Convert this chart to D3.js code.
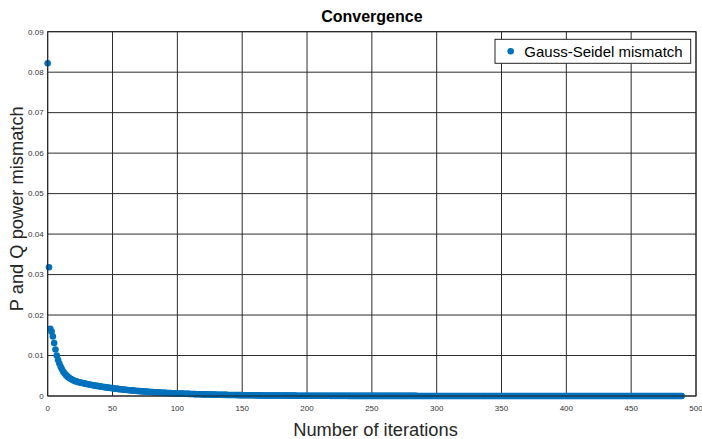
<!DOCTYPE html>
<html>
<head>
<meta charset="utf-8">
<script src="https://cdn.jsdelivr.net/npm/d3@7"></script>
<style>
	body { margin: 0; background: #fff; }
	svg { display: block; font-family: 'Liberation Sans', Arial, sans-serif; }
</style>
</head>
<body>
<svg id="chart" width="702" height="439"></svg>
<script>
// P and Q mismatch per Gauss-Seidel iteration (iteration = index, from 0)
const mismatch = [
	.0822, .0318, .0166, .0159, .0147, .0131, .0115, .0100, .0089, .0080,
	.0072, .0066, .0060, .0056, .0052, .0049, .0046, .0044, .0042, .0040,
	.00385, .00372, .00361, .00350, .00341, .00334, .00326, .00319, .00312, .00305,
	.00298, .00292, .00285, .00279, .00273, .00267, .00261, .00255, .00250, .00244,
	.00239, .00234, .00228, .00224, .00219, .00214, .00209, .00205, .00200, .00196,
	.00192, .00187, .00183, .00179, .00175, .00171, .00168, .00164, .00160, .00157,
	.00153, .00150, .00147, .00143, .00140, .00137, .00134, .00131, .00128, .00125,
	.00122, .00120, .00117, .00115, .00112, .00110, .00107, .00105, .00102, .00100,
	.00098, .00096, .00094, .00092, .00090, .00088, .00086, .00084, .00082, .00080,
	.00078, .00077, .00075, .00074, .00072, .00070, .00069, .00067, .00066, .00064,
	.00063, .00062, .00060, .00059, .00058, .00056, .00055, .00054, .00053, .00052,
	.00050, .00049, .00048, .00047, .00046, .00045, .00044, .00043, .00042, .00041,
	.00040, .00039, .00039, .00038, .00037, .00036, .00035, .00035, .00034, .00033,
	.00032, .00032, .00031, .00030, .00030, .00029, .00028, .00028, .00027, .00026,
	.00026, .00025, .00025, .00024, .00024, .00023, .00022, .00022, .00021, .00021,
	.00020, .00020, .00019, .00019, .00019, .00018, .00018, .00017, .00017, .00017,
	.00016, .00016, .00016, .00015, .00015, .00015, .00014, .00014, .00014, .00014,
	.00013, .00013, .00013, .00012, .00012, .00012, .00012, .00011, .00011, .00011,
	.00011, .00010, .00010, .00010, .00010, .00010, .00009, .00009, .00009, .00009,
	.00009, .00009, .00008, .00008, .00008, .00008, .00008, .00008, .00008, .00007,
	.00007, .00007, .00007, .00007, .00006, .00006, .00006, .00006, .00006, .00006,
	.00006, .00005, .00005, .00005, .00005, .00005, .00005, .00005, .00004, .00004,
	.00004, .00004, .00004, .00004, .00004, .00004, .00004, .00004, .00004, .00004,
	.00004, .00004, .00003, .00003, .00003, .00003, .00003, .00003, .00003, .00003,
	.00003, .00003, .00003, .00003, .00003, .00003, .00003, .00003, .00003, .00003,
	.00003, .00003, .00002, .00002, .00002, .00002, .00002, .00002, .00002, .00002,
	.00002, .00002, .00002, .00002, .00002, .00002, .00002, .00002, .00002, .00002,
	.00002, .00002, .00002, .00002, .00002, .00002, .00002, .00002, .00002, .00002,
	.00002, .00002, .00002, .00002, .00002, .00001, .00001, .00001, .00001, .00001,
	.00001, .00001, .00001, .00001, .00001, .00001, .00001, .00001, .00001, .00001,
	.00001, .00001, .00001, .00001, .00001, .00001, .00001, .00001, .00001, .00001,
	.00001, .00001, .00001, .00001, .00001, .00001, .00001, .00001, .00001, .00001,
	.00001, .00001, .00001, .00001, .00001, .00001, .00001, .00001, .00001, .00001,
	.00001, .00001, .00001, .00001, .00001, .00001, .00001, .00001, .00001, .00001,
	.00001, .00001, .00001, .00001, .00001, .00001, .00001, .00001, .00001, .00001,
	.00001, .00001, .00001, .00001, .00001, .00001, .00001, .00001, .00001, .00001,
	.00001, .00001, .00001, .00001, .00001, .00001, .00001, .00001, .00001, .00001,
	.00001, .00001, .00001, .00001, .00001, .00001, .00001, .00001, .00001, .00001,
	.00001, .00001, .00001, .00001, .00001, .00001, .00001, .00001, .00001, .00001,
	.00001, .00001, .00001, .00001, .00001, .00001, .00001, .00001, .00001, .00001,
	.00001, .00001, .00001, .00001, .00001, .00001, .00001, .00001, .00001, .00001,
	.00001, .00001, .00001, .00001, .00001, .00001, .00001, .00001, .00001, .00001,
	.00001, .00001, .00001, .00001, .00001, .00001, .00001, .00001, .00001, .00001,
	.00001, .00001, .00001, .00001, .00001, .00001, .00001, .00001, .00001, .00001,
	.00001, .00001, .00001, .00001, .00001, .00001, .00001, .00001, .00001, .00001,
	.00001, .00001, .00001, .00001, .00001, .00001, .00001, .00001, .00001, .00001,
	.00001, .00001, .00001, .00001, .00001, .00001, .00001, .00001, .00001, .00001,
	.00001, .00001, .00001, .00001, .00001, .00001, .00001, .00001, .00001, .00001,
	.00001, .00001, .00001, .00001, .00001, .00001, .00001, .00001, .00001, .00001
]

const xTicks = [0, 50, 100, 150, 200, 250, 300, 350, 400, 450, 500]
const yTicks = [0, 0.01, 0.02, 0.03, 0.04, 0.05, 0.06, 0.07, 0.08, 0.09]

const seriesName = 'Gauss-Seidel mismatch'
const title = 'Convergence'
const xLabel = 'Number of iterations'
const yLabel = 'P and Q power mismatch'

let plot = { left: 47.7, right: 696, top: 31.7, bottom: 396 }
let blue = '#0072BD'
let gridColor = '#2b2b2b'

const svg = d3.select('#chart')

const xScale = d3.scaleLinear()
	.domain([0, 500])
	.range([plot.left, plot.right])

const yScale = d3.scaleLinear()
	.domain([0, 0.09])
	.range([plot.bottom, plot.top])

svg.append('rect')
	.attr('width', 702)
	.attr('height', 439)
	.attr('fill', '#fff')

// grid
const grid = svg.append('g')

grid.selectAll('.vgrid')
	.data(xTicks)
	.enter()
	.append('line')
	.attr('x1', d => xScale(d))
	.attr('x2', d => xScale(d))
	.attr('y1', plot.top)
	.attr('y2', plot.bottom)
	.attr('stroke', gridColor)
	.attr('stroke-width', 1)

grid.selectAll('.hgrid')
	.data(yTicks)
	.enter()
	.append('line')
	.attr('x1', plot.left)
	.attr('x2', plot.right)
	.attr('y1', d => yScale(d))
	.attr('y2', d => yScale(d))
	.attr('stroke', gridColor)
	.attr('stroke-width', 1)

// tick labels
svg.append('g')
	.selectAll('text')
	.data(xTicks)
	.enter()
	.append('text')
	.text(d => d)
	.attr('x', d => xScale(d))
	.attr('y', plot.bottom + 15)
	.attr('text-anchor', 'middle')
	.attr('font-size', '8px')
	.attr('fill', '#333')

svg.append('g')
	.selectAll('text')
	.data(yTicks)
	.enter()
	.append('text')
	.text(d => d === 0 ? '0' : d.toFixed(2))
	.attr('x', plot.left - 4)
	.attr('y', d => yScale(d))
	.attr('dy', '0.35em')
	.attr('text-anchor', 'end')
	.attr('font-size', '8px')
	.attr('fill', '#333')

// points
svg.append('g')
	.selectAll('circle')
	.data(mismatch)
	.enter()
	.append('circle')
	.attr('cx', (d, i) => xScale(i))
	.attr('cy', d => yScale(d))
	.attr('r', 3.3)
	.attr('fill', blue)

// axes box
svg.append('rect')
	.attr('x', plot.left)
	.attr('y', plot.top)
	.attr('width', plot.right - plot.left)
	.attr('height', plot.bottom - plot.top)
	.attr('fill', 'none')
	.attr('stroke', '#222')
	.attr('stroke-width', 1)

// titles
svg.append('text')
	.text(title)
	.attr('x', (plot.left + plot.right) / 2)
	.attr('y', 22)
	.attr('text-anchor', 'middle')
	.attr('font-size', '16px')
	.attr('font-weight', 'bold')
	.attr('fill', '#000')

svg.append('text')
	.text(xLabel)
	.attr('x', 375.5)
	.attr('y', 436)
	.attr('text-anchor', 'middle')
	.attr('font-size', '18.3px')
	.attr('fill', '#262626')

svg.append('text')
	.text(yLabel)
	.attr('transform', 'translate(23,208.7) rotate(-90)')
	.attr('text-anchor', 'middle')
	.attr('font-size', '18.3px')
	.attr('fill', '#262626')

// legend
const legend = svg.append('g')

legend.append('rect')
	.attr('x', 495)
	.attr('y', 39.3)
	.attr('width', 195.7)
	.attr('height', 24)
	.attr('fill', '#fff')
	.attr('stroke', '#222')
	.attr('stroke-width', 1)

legend.append('circle')
	.attr('cx', 510.7)
	.attr('cy', 51.3)
	.attr('r', 3.3)
	.attr('fill', blue)

legend.append('text')
	.text(seriesName)
	.attr('x', 524.3)
	.attr('y', 51.3)
	.attr('dy', '0.36em')
	.attr('font-size', '15px')
	.attr('fill', '#000')
</script>
</body>
</html>
